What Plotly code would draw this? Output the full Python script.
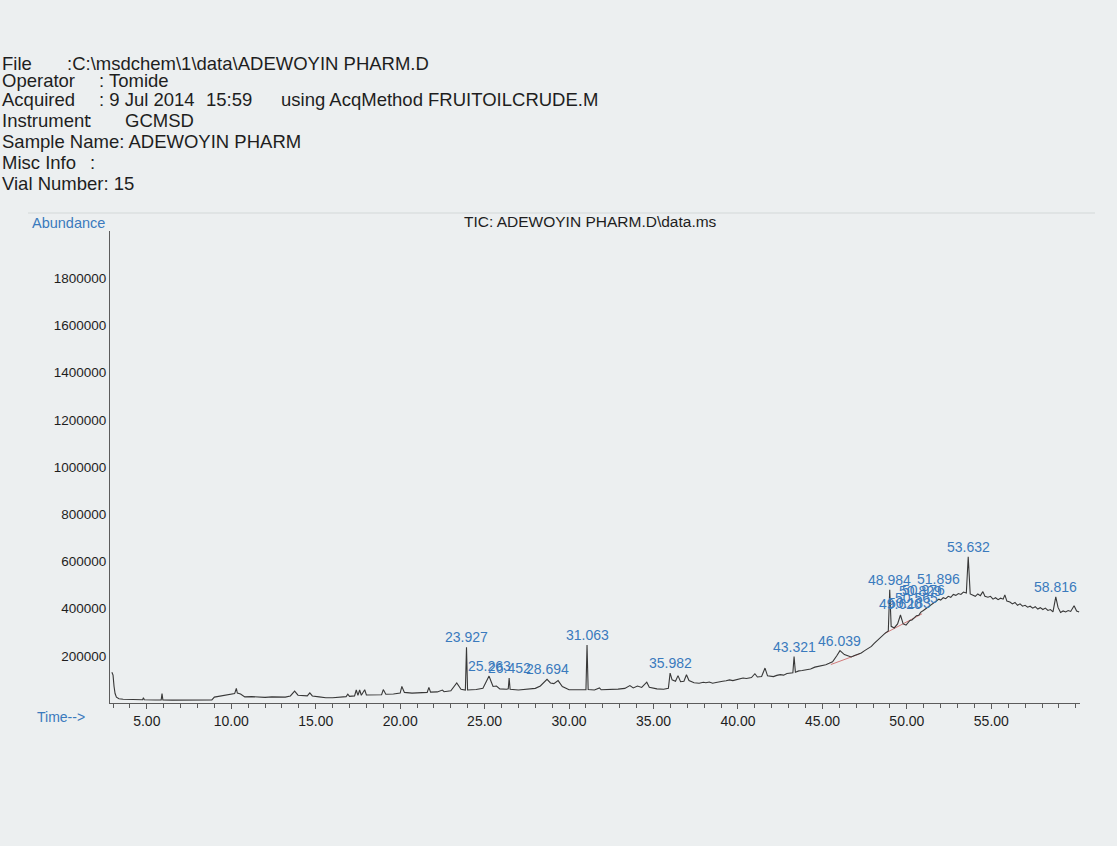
import plotly.graph_objects as go

# ---------------------------------------------------------------
# Total ion chromatogram: retention time (min) vs. abundance
# ---------------------------------------------------------------
rt_min = [
    2.93, 3.00, 3.06, 3.12, 3.20, 3.35, 3.60, 4.00, 4.50, 4.75, 4.80, 4.85,
    5.50, 5.85, 5.90, 5.95, 6.50, 7.00, 7.50, 8.00, 8.50, 8.85, 9.00, 9.30,
    9.60, 9.90, 10.20, 10.30, 10.36, 10.55, 10.80, 11.20, 11.60, 12.00, 12.40,
    12.80, 13.20, 13.50, 13.75, 13.95, 14.20, 14.50, 14.65, 14.80, 15.20,
    15.60, 16.00, 16.40, 16.80, 16.90, 17.00, 17.30, 17.40, 17.50, 17.60,
    17.70, 17.90, 18.00, 18.50, 18.90, 19.00, 19.15, 19.60, 20.00, 20.10,
    20.25, 20.70, 21.20, 21.60, 21.70, 21.80, 22.20, 22.50, 22.60, 23.00,
    23.35, 23.60, 23.86, 23.927, 23.99, 24.50, 24.90, 25.263, 25.40, 25.50,
    25.70, 25.90, 26.30, 26.40, 26.452, 26.51, 27.00, 27.50, 28.00, 28.30,
    28.694, 28.90, 29.10, 29.35, 29.60, 30.00, 30.50, 31.00, 31.063, 31.13,
    31.50, 31.80, 31.90, 32.40, 32.90, 33.30, 33.60, 33.80, 34.05, 34.30,
    34.60, 34.75, 35.20, 35.60, 35.88, 35.982, 36.10, 36.30, 36.45, 36.60,
    36.80, 36.95, 37.10, 37.40, 37.70, 37.95, 38.10, 38.30, 38.50, 38.70,
    38.90, 39.10, 39.30, 39.50, 39.70, 39.90, 40.10, 40.30, 40.50, 40.80,
    41.00, 41.15, 41.40, 41.60, 41.75, 42.10, 42.30, 42.50, 42.70, 42.90,
    43.25, 43.321, 43.40, 43.60, 43.80, 44.05, 44.30, 44.55, 44.80, 45.00,
    45.20, 45.40, 45.60, 45.85, 46.039, 46.30, 46.50, 46.70, 46.90, 47.10,
    47.30, 47.50, 47.70, 47.90, 48.05, 48.20, 48.45, 48.70,
    48.90, 48.984, 49.07, 49.25, 49.45, 49.620, 49.78, 49.95, 50.183, 50.30,
    50.45, 50.565, 50.70, 50.829, 50.976, 51.10, 51.30, 51.55, 51.75, 51.896,
    52.00, 52.15, 52.30, 52.45, 52.60, 52.75, 52.90, 53.05, 53.20, 53.35,
    53.52, 53.632, 53.75, 53.90, 54.05, 54.20, 54.35, 54.50, 54.62, 54.80,
    54.95, 55.10, 55.25, 55.40, 55.55, 55.70, 55.80, 55.92, 56.10, 56.25,
    56.40, 56.55, 56.70, 56.85, 57.00, 57.15, 57.30, 57.45, 57.60, 57.75,
    57.90, 58.05, 58.20, 58.35, 58.50, 58.65, 58.816, 58.95, 59.10, 59.25,
    59.40, 59.55, 59.70, 59.90, 60.05, 60.20,
]
abundance = [
    130000, 118000, 70000, 40000, 25000, 18000, 16000, 15000, 14000, 14000, 22000, 14000,
    13000, 13000, 40000, 13000, 12000, 12000, 12000, 12000, 12000, 13000, 25000, 28000,
    33000, 36000, 40000, 62000, 42000, 38000, 26000, 27000, 25000, 24000, 26000,
    24000, 25000, 30000, 50000, 33000, 32000, 30000, 43000, 30000, 26000,
    22000, 22000, 23000, 27000, 37000, 28000, 30000, 55000, 32000, 55000,
    33000, 56000, 34000, 33000, 35000, 57000, 37000, 38000, 42000, 70000,
    45000, 42000, 43000, 45000, 66000, 46000, 47000, 55000, 48000, 52000,
    85000, 58000, 55000, 236000, 55000, 57000, 62000, 114000, 88000, 70000,
    72000, 60000, 58000, 60000, 106000, 58000, 55000, 57000, 62000, 72000,
    100000, 85000, 82000, 95000, 70000, 56000, 55000, 56000, 246000, 57000,
    55000, 64000, 56000, 57000, 59000, 62000, 74000, 64000, 72000, 66000,
    88000, 67000, 60000, 58000, 62000, 127000, 98000, 92000, 116000, 90000,
    92000, 120000, 95000, 86000, 84000, 88000, 86000, 89000, 84000, 87000,
    88000, 92000, 94000, 98000, 95000, 99000, 100000, 106000, 104000, 108000,
    124000, 110000, 112000, 148000, 115000, 112000, 117000, 120000, 118000, 125000,
    128000, 197000, 130000, 136000, 138000, 142000, 144000, 152000, 155000, 158000,
    162000, 168000, 175000, 200000, 222000, 205000, 199000, 195000, 201000, 205000,
    212000, 222000, 230000, 240000, 252000, 262000, 280000, 295000,
    305000, 480000, 325000, 318000, 335000, 373000, 335000, 330000, 350000, 352000,
    362000, 370000, 372000, 385000, 392000, 398000, 410000, 422000, 430000, 440000,
    436000, 446000, 442000, 452000, 448000, 460000, 456000, 464000, 460000, 470000,
    466000, 620000, 462000, 458000, 452000, 462000, 455000, 472000, 452000, 448000,
    452000, 440000, 446000, 438000, 444000, 440000, 458000, 432000, 428000, 420000,
    426000, 414000, 420000, 410000, 414000, 406000, 410000, 402000, 408000, 398000,
    404000, 396000, 402000, 392000, 396000, 386000, 450000, 405000, 384000, 390000,
    386000, 392000, 388000, 412000, 390000, 386000,
]

# Integrated peak baselines (drawn under the trace)
int_rt = [45.50, 47.20, None, 48.70, 50.90]
int_ab = [163000, 208000, None, 295000, 378000]

# Retention times of the labelled peaks
peak_rt = [23.927, 25.263, 26.452, 28.694, 31.063, 35.982, 43.321, 46.039,
           48.984, 49.620, 50.183, 50.565, 50.829, 50.976, 51.896, 53.632, 58.816]

# Axis tick values
x_ticks = [5, 10, 15, 20, 25, 30, 35, 40, 45, 50, 55]
y_ticks = [200000, 400000, 600000, 800000, 1000000, 1200000, 1400000, 1600000, 1800000]

# Run header lines: (text, left edge in px, centre y in px)
header_items = [
    ("File", 0, 63), (":C:\\msdchem\\1\\data\\ADEWOYIN PHARM.D", 65, 63),
    ("Operator", 0, 81), (": Tomide", 97, 81),
    ("Acquired", 0, 100), (": 9 Jul 2014", 97, 100), ("15:59", 204, 100),
    ("using AcqMethod FRUITOILCRUDE.M", 279, 100),
    ("Instrument", 0, 120), (":", 85, 120), ("GCMSD", 123, 120),
    ("Sample Name: ADEWOYIN PHARM", 0, 141),
    ("Misc Info", 0, 163), (":", 88, 163),
    ("Vial Number: 15", 0, 184),
]

# ---------------------------------------------------------------
# Styling
# ---------------------------------------------------------------
W, H = 1117, 846
ML, MR, MT, MB = 110, 37, 231, 143
PW, PH = W - ML - MR, H - MT - MB
FONT = "Liberation Sans, Arial, sans-serif"
INK = "#1e1e1e"
BLUE = "#3a7abd"
TRACE = "#383838"
AXIS = "#5c5c5c"
PAPER = "#eceff0"

# vertical nudges (px) for labels that would sit on top of each other
label_lift = {50.183: 7, 50.565: 8, 50.829: 11, 50.976: 10, 51.896: 10, 49.620: 1}


def fx(xpix):
    return (xpix - ML) / PW


def fy(ypix):
    return 1 - (ypix - MT) / PH


fig = go.Figure()

fig.add_trace(go.Scatter(
    x=int_rt, y=int_ab, mode="lines",
    line=dict(color="#d27a7a", width=1), hoverinfo="skip", showlegend=False,
))
fig.add_trace(go.Scatter(
    x=rt_min, y=abundance, mode="lines",
    line=dict(color=TRACE, width=1.1), showlegend=False,
))

annotations = []
for rt in peak_rt:
    h = abundance[rt_min.index(rt)]
    annotations.append(dict(
        x=rt, y=h, xref="x", yref="y", text=f"{rt:.3f}", showarrow=False,
        xanchor="center", yanchor="bottom", yshift=label_lift.get(rt, 0),
        font=dict(family=FONT, size=14, color=BLUE),
    ))

for text, xpix, ypix in header_items:
    annotations.append(dict(
        x=fx(xpix), y=fy(ypix), xref="paper", yref="paper", text=text,
        showarrow=False, xanchor="left", yanchor="middle",
        font=dict(family=FONT, size=18.5, color=INK),
    ))

annotations += [
    dict(x=fx(30), y=fy(223), xref="paper", yref="paper", text="Abundance",
         showarrow=False, xanchor="left", yanchor="middle",
         font=dict(family=FONT, size=14.5, color=BLUE)),
    dict(x=fx(35), y=fy(717), xref="paper", yref="paper", text="Time-->",
         showarrow=False, xanchor="left", yanchor="middle",
         font=dict(family=FONT, size=14, color=BLUE)),
    dict(x=fx(590), y=fy(222), xref="paper", yref="paper",
         text="TIC: ADEWOYIN PHARM.D\\data.ms",
         showarrow=False, xanchor="center", yanchor="middle",
         font=dict(family=FONT, size=15.5, color=INK)),
]

fig.update_layout(
    width=W, height=H,
    margin=dict(l=ML, r=MR, t=MT, b=MB, pad=0),
    paper_bgcolor=PAPER, plot_bgcolor=PAPER,
    font=dict(family=FONT, color=INK),
    annotations=annotations,
    shapes=[dict(type="line", xref="paper", yref="paper",
                 x0=fx(28), x1=fx(1095), y0=fy(213), y1=fy(213),
                 line=dict(color="#d3d8d8", width=1))],
    xaxis=dict(
        range=[2.82, 60.25], showgrid=False, zeroline=False,
        showline=True, linecolor=AXIS, linewidth=1,
        tickmode="array", tickvals=x_ticks, ticktext=[f"{v:.2f}" for v in x_ticks],
        ticks="outside", ticklen=5, tickcolor=AXIS,
        minor=dict(ticks="outside", ticklen=4, tickcolor=AXIS, dtick=1, tick0=0),
        tickfont=dict(family=FONT, size=14, color=INK),
    ),
    yaxis=dict(
        range=[0, 2000000], showgrid=False, zeroline=False,
        showline=True, linecolor=AXIS, linewidth=1,
        tickmode="array", tickvals=y_ticks, ticktext=[str(v) for v in y_ticks],
        ticks="", tickfont=dict(family=FONT, size=13.5, color=INK),
    ),
)

fig.write_html("out.html")
